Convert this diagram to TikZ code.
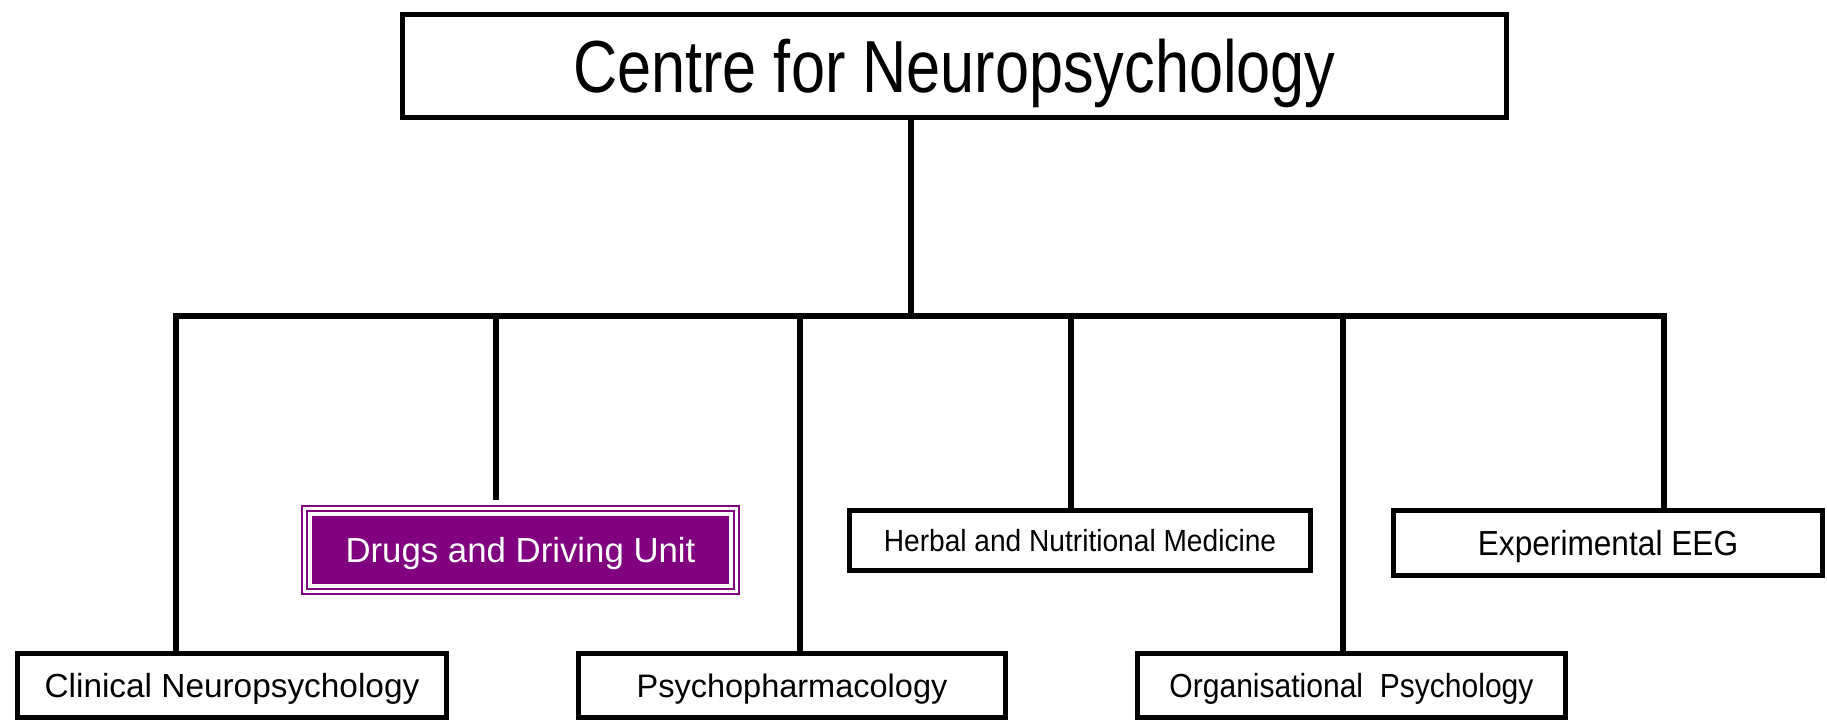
\documentclass[tikz,border=0pt]{standalone}
\usepackage{fontspec}
\setmainfont{Liberation Sans}
\definecolor{unitpurple}{RGB}{128,0,128}
\def\pxu{0.02cm}
\newcommand{\boxfont}[2]{\fontsize{#1}{#1}\selectfont\addfontfeatures{FakeStretch=#2}}
\tikzset{
        capfont/.style n args={2}{font=\boxfont{#1}{#2}, text height=0.716*#1pt, text depth=0pt},
        unitbox/.style={draw, line width=2.8pt, inner sep=0pt, minimum height=64*\pxu,
                capfont={19}{1.0}},
        link/.style={line width=3.2pt}
}
\begin{document}
\begin{tikzpicture}[x=0.02cm, y=-0.02cm]
        \useasboundingbox (0,0) rectangle (1827,722);

        \node[unitbox, minimum width=1104*\pxu, minimum height=103*\pxu,
                capfont={42}{0.83}, text depth=-4pt] (centre) at (954.5,66) {Centre for Neuropsychology};

        \node[unitbox, minimum width=429*\pxu] (clinical) at (232,685.5) {Clinical Neuropsychology};
        \node[unitbox, minimum width=427*\pxu, capfont={18.5}{1.0}] (psycho) at (792,685.5) {Psychopharmacology};
        \node[unitbox, minimum width=428*\pxu, capfont={19}{0.9}] (organisational) at (1351.5,685.5) {Organisational\ \ Psychology};
        \node[unitbox, minimum width=461*\pxu, minimum height=60*\pxu, capfont={17.4}{0.92}] (herbal) at (1080,540.5) {Herbal and Nutritional Medicine};
        \node[unitbox, minimum width=429*\pxu, minimum height=65*\pxu, capfont={19.8}{0.91}] (eeg) at (1608,543) {Experimental EEG};

        \node[fill=unitpurple, text=white, inner sep=0pt, minimum width=417*\pxu, minimum height=68*\pxu,
                capfont={19.8}{1.0}] (drugs) at (520.5,550) {Drugs and Driving Unit};
        \coordinate (frameNW) at ([shift={(-7.5,-7.5)}]drugs.north west);
        \coordinate (frameSE) at ([shift={(7.5,7.5)}]drugs.south east);
        \draw[unitpurple, line width=1.1pt, double=white, double distance=1.7pt] (frameNW) rectangle (frameSE);

        \coordinate (trunk) at (911,316);
        \draw[link] (centre.south -| trunk) -- (trunk);
        \draw[link, line cap=rect] (176,316) -- (1664,316);

        \foreach \x/\n in {176/clinical, 800/psycho, 1071/herbal, 1343/organisational, 1664/eeg}
        {
                \coordinate (d) at (\x,316);
                \draw[link] (d) -- (d |- \n.north);
        }
        \coordinate (d) at (496,316);
        \draw[link, shorten >=8*\pxu] (d) -- (d |- frameNW);

\end{tikzpicture}
\end{document}
